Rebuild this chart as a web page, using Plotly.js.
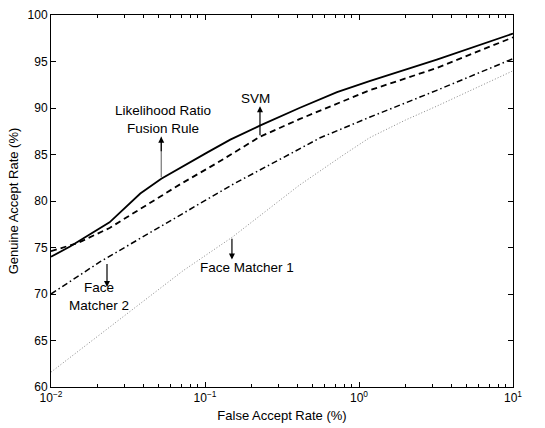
<!DOCTYPE html>
<html>
<head>
<meta charset="utf-8">
<script src="https://cdn.plot.ly/plotly-3.0.1.min.js"></script>
<style>html,body{margin:0;padding:0;background:#fff;}#chart{width:545px;height:428px;}</style>
</head>
<body>
<div id="chart"></div>
<script>
// Likelihood Ratio Fusion Rule (solid)
const lrFar = [0.01, 0.0133, 0.024, 0.038, 0.052, 0.062, 0.103, 0.146, 0.227, 0.41, 0.72, 1.17, 3.2, 10];
const lrGar = [74.0, 75.1, 77.7, 80.8, 82.4, 83.1, 85.2, 86.6, 88.1, 90.0, 91.7, 92.9, 95.2, 98.0];
// SVM (dashed)
const svmFar = [0.01, 0.015, 0.024, 0.044, 0.069, 0.12, 0.227, 0.41, 1.17, 3.2, 10];
const svmGar = [74.6, 75.5, 77.1, 79.8, 81.8, 84.1, 86.9, 88.8, 91.9, 94.3, 97.6];
// Face Matcher 2 (dash-dot)
const fm2Far = [0.01, 0.021, 0.044, 0.1, 0.152, 0.37, 0.56, 1.17, 3.2, 10];
const fm2Gar = [70.0, 73.5, 76.6, 80.1, 81.8, 85.2, 86.8, 89.0, 91.9, 95.3];
// Face Matcher 1 (dotted)
const fm1Far = [0.01, 0.021, 0.072, 0.15, 0.41, 0.8, 1.17, 2.0, 3.2, 10];
const fm1Gar = [61.6, 65.7, 72.5, 76.1, 81.7, 85.0, 86.8, 88.7, 90.2, 94.0];

const xTickVals = [0.01, 0.1, 1, 10];
const xTickText = ['10<sup>−2</sup>', '10<sup>−1</sup>', '10<sup>0</sup>', '10<sup>1</sup>'];
const yTickVals = [60, 65, 70, 75, 80, 85, 90, 95, 100];

const minorVals = [];
[0.01, 0.1, 1].forEach(d => { for (let k = 2; k <= 9; k++) minorVals.push(d * k); });

const FONT = 'Liberation Sans, Arial, Helvetica, sans-serif';
const L = Math.log10;

const traces = [
  {x: lrFar, y: lrGar, mode: 'lines', line: {color: '#000', width: 1.8}},
  {x: svmFar, y: svmGar, mode: 'lines', line: {color: '#000', width: 1.8, dash: '6px,4px'}},
  {x: fm2Far, y: fm2Gar, mode: 'lines', line: {color: '#000', width: 1.5, dash: '6px,3px,1.5px,3px'}},
  {x: fm1Far, y: fm1Gar, mode: 'lines', line: {color: '#888', width: 1, dash: '1px,2px'}}
];

const annFont = {family: FONT, size: 13.5, color: '#000'};
function arrow(xv, yTail, yTip, color, head) {
  return {x: L(xv), y: yTip, ax: L(xv), ay: yTail, axref: 'x', ayref: 'y', xref: 'x', yref: 'y',
          text: '', showarrow: true, arrowhead: head, arrowsize: 1, arrowwidth: 1.2, arrowcolor: color};
}
function label(xv, yv, txt) {
  return {x: L(xv), y: yv, xref: 'x', yref: 'y', text: txt, showarrow: false, font: annFont,
          xanchor: 'center', yanchor: 'middle', align: 'center'};
}

const annotations = [
  arrow(0.052, 82.4, 86.9, '#777', 0),
  arrow(0.052, 85.2, 86.9, '#000', 2),
  label(0.0533, 88.8, 'Likelihood Ratio<br>Fusion Rule'),
  arrow(0.2275, 86.9, 90.2, '#000', 2),
  label(0.2113, 91.0, 'SVM'),
  arrow(0.0231, 73.4, 70.75, '#000', 2),
  label(0.0205, 69.7, 'Face<br>Matcher 2'),
  arrow(0.1496, 76.1, 73.7, '#000', 2),
  label(0.1875, 72.8, 'Face Matcher 1')
];

const layout = {
  width: 545, height: 428,
  margin: {l: 51, r: 32, t: 15, b: 41, pad: 0},
  paper_bgcolor: '#fff', plot_bgcolor: '#fff',
  showlegend: false,
  font: {family: FONT, size: 12, color: '#000'},
  xaxis: {
    type: 'log', range: [-2, 1], tickmode: 'array', tickvals: xTickVals, ticktext: xTickText,
    ticks: 'inside', ticklen: 5, tickwidth: 1, tickcolor: '#000',
    showline: true, linecolor: '#000', linewidth: 1, mirror: 'ticks',
    showgrid: false, zeroline: false,
    tickfont: {family: FONT, size: 12, color: '#000'},
    minor: {tickmode: 'array', tickvals: minorVals, ticks: 'inside', ticklen: 3, tickwidth: 1, tickcolor: '#000', showgrid: false},
    title: {text: 'False Accept Rate (%)', font: {family: FONT, size: 13, color: '#000'}, standoff: 6}
  },
  yaxis: {
    range: [60, 100], tickmode: 'array', tickvals: yTickVals,
    ticks: 'inside', ticklen: 5, tickwidth: 1, tickcolor: '#000',
    showline: true, linecolor: '#000', linewidth: 1, mirror: 'ticks',
    showgrid: false, zeroline: false,
    tickfont: {family: FONT, size: 12, color: '#000'},
    title: {text: 'Genuine Accept Rate (%)', font: {family: FONT, size: 13, color: '#000'}, standoff: 6}
  },
  annotations: annotations
};

Plotly.newPlot('chart', traces, layout, {staticPlot: true, displayModeBar: false});
</script>
</body>
</html>
